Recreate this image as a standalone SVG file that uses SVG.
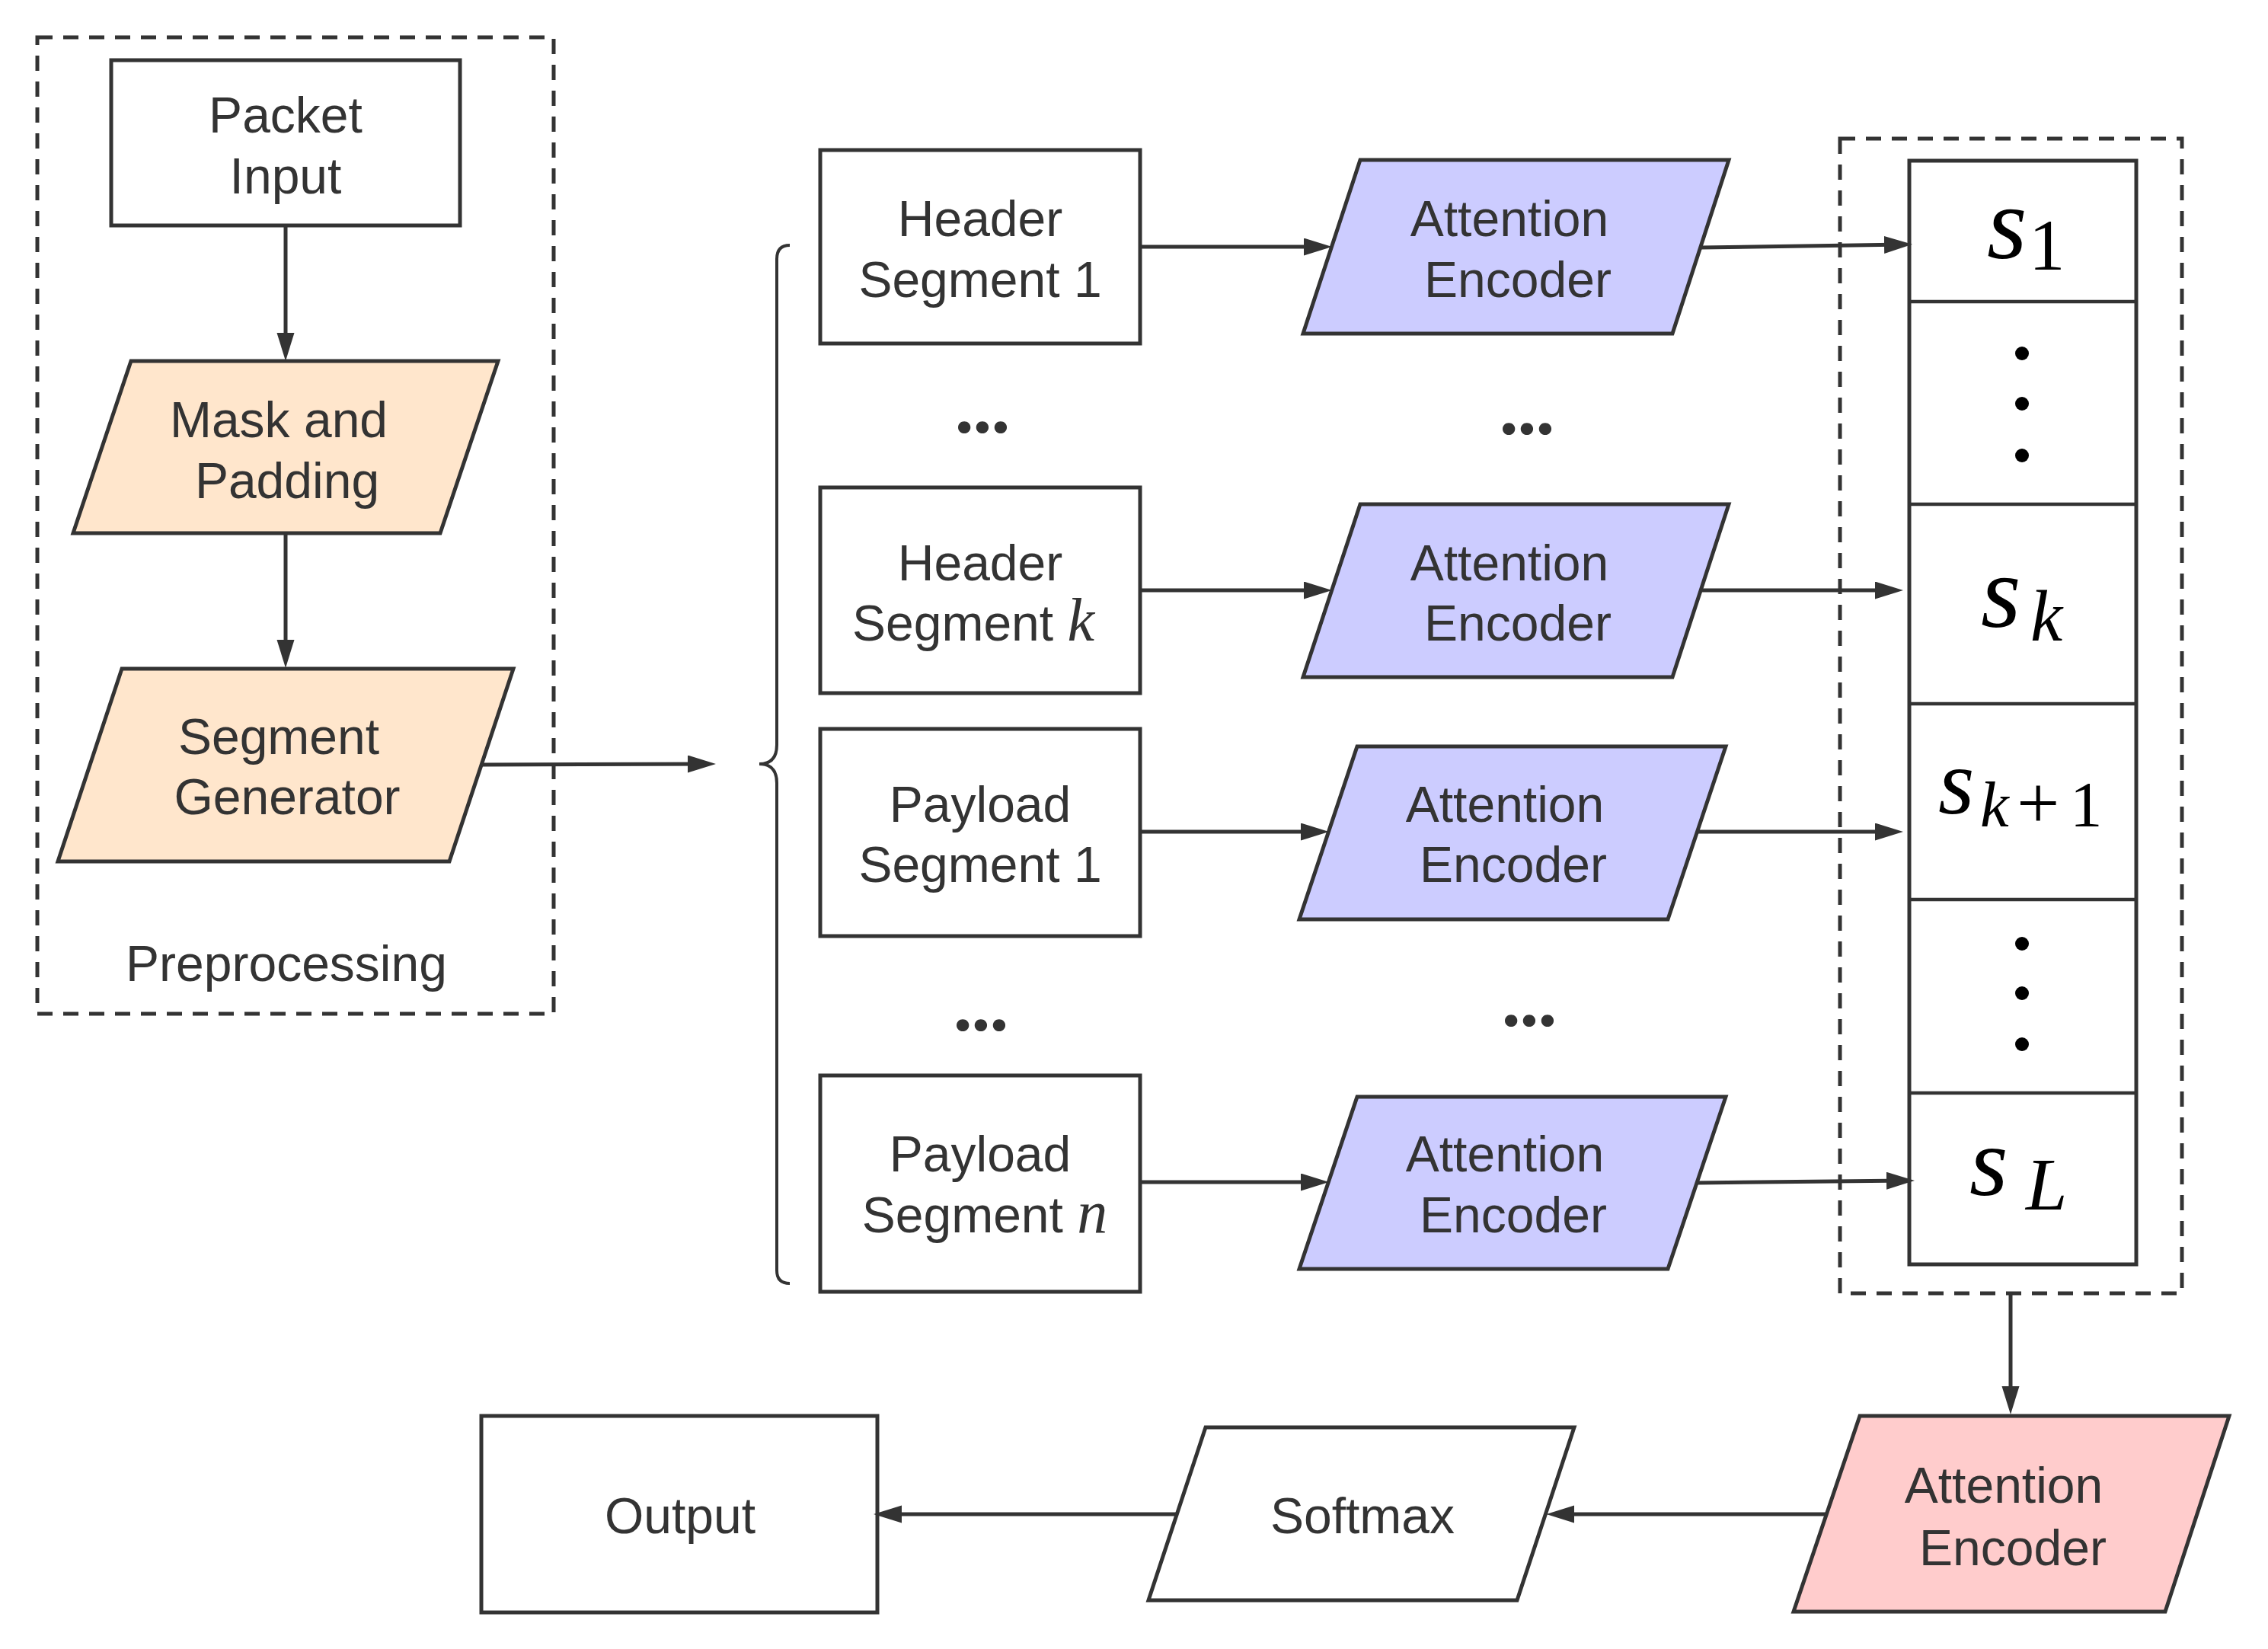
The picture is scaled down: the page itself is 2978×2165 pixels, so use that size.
<svg xmlns="http://www.w3.org/2000/svg" width="2978" height="2165" viewBox="0 0 2978 2165">
<style>
.n{stroke:#333333;stroke-width:5;}
.w{fill:#ffffff;}
.o{fill:#FFE6CC;}
.b{fill:#CCCCFF;}
.p{fill:#FFCCCC;}
.grp{fill:none;stroke:#333333;stroke-width:5;stroke-dasharray:20 14;}
.t{font-family:"Liberation Sans",Arial,sans-serif;font-size:66px;fill:#333333;text-anchor:middle;}
.dots{font-family:Lato,"Liberation Sans",sans-serif;font-size:100px;font-weight:900;fill:#333333;text-anchor:middle;}
.mi{font-family:"Liberation Serif","Times New Roman",serif;font-style:italic;}
.m{font-family:"Liberation Serif","Times New Roman",serif;fill:#000000;}
.c{fill:none;stroke:#333333;stroke-width:5;marker-end:url(#ah);}
.div{stroke:#333333;stroke-width:4.5;}
</style>
<defs>
<marker id="ah" markerUnits="userSpaceOnUse" markerWidth="40" markerHeight="26" refX="27" refY="11.5" orient="auto">
<path d="M0,0 L37,11.5 L0,23 Z" fill="#333333"/>
</marker>
</defs>
<rect width="2978" height="2165" fill="#ffffff"/>

<g id="preprocessing-group">
<rect class="grp" x="49" y="49" width="678" height="1282"/>
<text class="t" x="376" y="1288">Preprocessing</text>
</g>

<g id="packet-input">
<rect class="n w" x="146" y="79" width="458" height="217"/>
<text class="t" x="375" y="174">Packet</text>
<text class="t" x="375" y="254">Input</text>
</g>

<g id="mask-padding">
<polygon class="n o" points="172,474 654,474 578,700 96,700"/>
<text class="t" x="366" y="574">Mask and</text>
<text class="t" x="377" y="654">Padding</text>
</g>

<g id="segment-generator">
<polygon class="n o" points="160,878 674,878 590,1131 76,1131"/>
<text class="t" x="366" y="990">Segment</text>
<text class="t" x="377" y="1069">Generator</text>
</g>

<g id="brace">
<path d="M1037,322 Q1020,322 1020,340 L1020,978 Q1020,1003 997,1003 Q1020,1003 1020,1028 L1020,1668 Q1020,1685 1037,1685" fill="none" stroke="#333333" stroke-width="4"/>
</g>

<g id="header-segment-1">
<rect class="n w" x="1077" y="197" width="420" height="254"/>
<text class="t" x="1287" y="310">Header</text>
<text class="t" x="1287" y="390">Segment 1</text>
</g>

<g id="dots-left-1"><text class="dots" x="1290" y="568">...</text></g>
<g id="dots-right-1"><text class="dots" x="2005" y="570">...</text></g>

<g id="header-segment-k">
<rect class="n w" x="1077" y="640" width="420" height="270"/>
<text class="t" x="1287" y="762">Header</text>
<text class="t" x="1278" y="841">Segment <tspan class="mi" font-size="80">k</tspan></text>
</g>

<g id="payload-segment-1">
<rect class="n w" x="1077" y="957" width="420" height="272"/>
<text class="t" x="1287" y="1079">Payload</text>
<text class="t" x="1287" y="1158">Segment 1</text>
</g>

<g id="dots-left-2"><text class="dots" x="1288" y="1353">...</text></g>
<g id="dots-right-2"><text class="dots" x="2008" y="1347">...</text></g>

<g id="payload-segment-n">
<rect class="n w" x="1077" y="1412" width="420" height="284"/>
<text class="t" x="1287" y="1538">Payload</text>
<text class="t" x="1293" y="1618">Segment <tspan class="mi" font-size="80">n</tspan></text>
</g>

<g id="attention-encoder-1">
<polygon class="n b" points="1786,210 2270,210 2196,438 1711,438"/>
<text class="t" x="1982" y="310">Attention</text>
<text class="t" x="1993" y="390">Encoder</text>
</g>

<g id="attention-encoder-2">
<polygon class="n b" points="1786,662 2270,662 2196,889 1711,889"/>
<text class="t" x="1982" y="762">Attention</text>
<text class="t" x="1993" y="841">Encoder</text>
</g>

<g id="attention-encoder-3">
<polygon class="n b" points="1782,980 2266,980 2190,1207 1706,1207"/>
<text class="t" x="1976" y="1079">Attention</text>
<text class="t" x="1987" y="1158">Encoder</text>
</g>

<g id="attention-encoder-4">
<polygon class="n b" points="1782,1440 2266,1440 2190,1666 1706,1666"/>
<text class="t" x="1976" y="1538">Attention</text>
<text class="t" x="1987" y="1618">Encoder</text>
</g>

<g id="sequence-group">
<rect class="grp" x="2416" y="182" width="449" height="1516"/>
</g>

<g id="sequence-stack">
<rect class="n w" x="2507" y="211" width="298" height="1449"/>
<line class="div" x1="2507" y1="396" x2="2805" y2="396"/>
<line class="div" x1="2507" y1="662" x2="2805" y2="662"/>
<line class="div" x1="2507" y1="924" x2="2805" y2="924"/>
<line class="div" x1="2507" y1="1181" x2="2805" y2="1181"/>
<line class="div" x1="2507" y1="1435" x2="2805" y2="1435"/>
<text class="m"><tspan class="mi" x="2609" y="339" font-size="135">s</tspan><tspan x="2664" y="354" font-size="95">1</tspan></text>
<circle cx="2655" cy="464" r="9" fill="#000"/>
<circle cx="2655" cy="530" r="9" fill="#000"/>
<circle cx="2655" cy="598" r="9" fill="#000"/>
<text class="m"><tspan class="mi" x="2601" y="823" font-size="135">s</tspan><tspan class="mi" x="2666" y="841" font-size="95">k</tspan></text>
<text class="m"><tspan class="mi" x="2545" y="1068" font-size="122">s</tspan><tspan class="mi" x="2600" y="1085" font-size="85">k</tspan><tspan x="2648" y="1088" font-size="100">+</tspan><tspan x="2718" y="1085" font-size="85">1</tspan></text>
<circle cx="2655" cy="1239" r="9" fill="#000"/>
<circle cx="2655" cy="1304" r="9" fill="#000"/>
<circle cx="2655" cy="1371" r="9" fill="#000"/>
<text class="m"><tspan class="mi" x="2586" y="1569" font-size="130">s</tspan><tspan class="mi" x="2660" y="1588" font-size="98">L</tspan></text>
</g>

<g id="attention-encoder-final">
<polygon class="n p" points="2442,1859 2927,1859 2843,2116 2355,2116"/>
<text class="t" x="2631" y="1973">Attention</text>
<text class="t" x="2643" y="2055">Encoder</text>
</g>

<g id="softmax">
<polygon class="n w" points="1583,1874 2067,1874 1992,2101 1508,2101"/>
<text class="t" x="1789" y="2013">Softmax</text>
</g>

<g id="output">
<rect class="n w" x="632" y="1859" width="520" height="258"/>
<text class="t" x="893" y="2013">Output</text>
</g>

<g id="connectors">
<line class="c" x1="375" y1="296" x2="375" y2="464"/>
<line class="c" x1="375" y1="700" x2="375" y2="867"/>
<line class="c" x1="632" y1="1004" x2="930" y2="1003"/>
<line class="c" x1="1497" y1="324" x2="1739" y2="324"/>
<line class="c" x1="1497" y1="775" x2="1739" y2="775"/>
<line class="c" x1="1497" y1="1092" x2="1735" y2="1092"/>
<line class="c" x1="1497" y1="1552" x2="1735" y2="1552"/>
<line class="c" x1="2233" y1="325" x2="2501" y2="321"/>
<line class="c" x1="2233" y1="775" x2="2489" y2="775"/>
<line class="c" x1="2228" y1="1092" x2="2489" y2="1092"/>
<line class="c" x1="2228" y1="1553" x2="2504" y2="1550"/>
<line class="c" x1="2640" y1="1698" x2="2640" y2="1847"/>
<line class="c" x1="2397" y1="1988" x2="2040" y2="1988"/>
<line class="c" x1="1545" y1="1988" x2="1157" y2="1988"/>
</g>
</svg>
